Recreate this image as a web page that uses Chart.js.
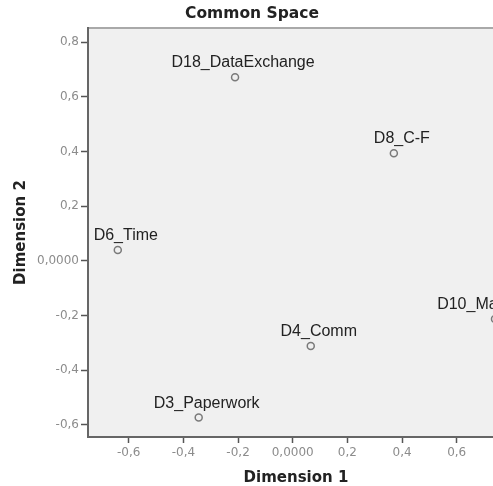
<!DOCTYPE html>
<html>
<head>
<meta charset="utf-8">
<script src="https://cdn.jsdelivr.net/npm/chart.js@4.4.1/dist/chart.umd.min.js"></script>
<style>
  html, body { margin: 0; padding: 0; overflow: hidden; background: #fff; }
  #myChart { display: block; }
</style>
</head>
<body>
<canvas id="myChart" width="504" height="486"></canvas>
<script>
const labels = ['D18_DataExchange', 'D8_C-F', 'D6_Time', 'D10_Management', 'D4_Comm', 'D3_Paperwork'];
const dim1 = [-0.211, 0.370, -0.640, 0.740, 0.066, -0.344];
const dim2 = [0.672, 0.394, 0.040, -0.212, -0.311, -0.573];
const xTicks = [-0.6, -0.4, -0.2, 0, 0.2, 0.4, 0.6];
const yTicks = [-0.6, -0.4, -0.2, 0, 0.2, 0.4, 0.6, 0.8];

// spss style: zero gets four decimals, the rest one, comma as separator
const fmt = v => Math.abs(v) < 1e-9 ? '0,0000' : v.toFixed(1).replace('.', ',');

const plotBg = {
    id: 'plotBg',
    beforeDraw(chart) {
        const {ctx, chartArea: {left, top, right, bottom}} = chart;
        ctx.save();
        ctx.fillStyle = '#f0f0f0';
        ctx.fillRect(left, top, right - left, bottom - top);
        ctx.strokeStyle = '#a9a9a9';
        ctx.lineWidth = 2;
        ctx.beginPath();
        ctx.moveTo(left, top);
        ctx.lineTo(right, top);
        ctx.stroke();
        ctx.restore();
    }
};

const pointLabels = {
    id: 'pointLabels',
    afterDatasetsDraw(chart) {
        const ctx = chart.ctx;
        const meta = chart.getDatasetMeta(0);
        ctx.save();
        ctx.font = '16px "Liberation Sans", Arial, sans-serif';
        ctx.fillStyle = '#222';
        ctx.textAlign = 'center';
        ctx.textBaseline = 'alphabetic';
        meta.data.forEach((pt, i) => {
            ctx.fillText(labels[i], pt.x + 8, pt.y - 10);
        });
        ctx.restore();
    }
};

const ctx = document.querySelector('#myChart').getContext('2d');
const config = {
    type: 'scatter',
    data: {
        datasets: [{
            data: dim1.map((x, i) => ({x: x, y: dim2[i]})),
            pointRadius: 3.5,
            pointHoverRadius: 3.5,
            pointBorderWidth: 1.5,
            borderColor: '#7a7a7a',
            backgroundColor: 'rgba(0,0,0,0)'
        }]
    },
    options: {
        responsive: false,
        animation: false,
        devicePixelRatio: 1,
        layout: { padding: 0, autoPadding: false },
        plugins: {
            legend: { display: false },
            tooltip: { enabled: false },
            title: {
                display: true,
                text: 'Common Space',
                color: '#222',
                font: { family: '"DejaVu Sans", sans-serif', size: 15.5, weight: 'bold', lineHeight: 1.2 },
                padding: { top: 5, bottom: 4.4 }
            }
        },
        scales: {
            x: {
                type: 'linear',
                min: -0.749,
                max: 0.773,
                afterBuildTicks: s => { s.ticks = xTicks.map(v => ({value: v})); },
                afterFit: s => { s.height = 49; s.paddingLeft = 0; s.paddingRight = 0; },
                border: { display: true, color: '#666', width: 2 },
                grid: { drawOnChartArea: false, drawTicks: true, tickLength: 6, tickColor: '#555', tickWidth: 1.5 },
                ticks: {
                    padding: 3,
                    color: '#8c8c8c',
                    font: { family: '"DejaVu Sans", sans-serif', size: 12 },
                    maxRotation: 0,
                    callback: v => fmt(v)
                },
                title: {
                    display: true,
                    text: 'Dimension 1',
                    color: '#222',
                    font: { family: '"DejaVu Sans", sans-serif', size: 15, weight: 'bold', lineHeight: 1 },
                    padding: { top: 0, bottom: 0 }
                }
            },
            y: {
                type: 'linear',
                min: -0.644,
                max: 0.852,
                afterBuildTicks: s => { s.ticks = yTicks.map(v => ({value: v})); },
                afterFit: s => { s.width = 88; s.paddingTop = 0; s.paddingBottom = 0; },
                border: { display: true, color: '#666', width: 2 },
                grid: { drawOnChartArea: false, drawTicks: true, tickLength: 7, tickColor: '#555', tickWidth: 1.5 },
                ticks: {
                    padding: 2,
                    color: '#8c8c8c',
                    font: { family: '"DejaVu Sans", sans-serif', size: 12 },
                    callback: v => fmt(v)
                },
                title: {
                    display: true,
                    text: 'Dimension 2',
                    color: '#222',
                    font: { family: '"DejaVu Sans", sans-serif', size: 15, weight: 'bold', lineHeight: 1 },
                    padding: { top: 14, bottom: 0 }
                }
            }
        }
    },
    plugins: [plotBg, pointLabels]
};
new Chart(ctx, config);
</script>
</body>
</html>
